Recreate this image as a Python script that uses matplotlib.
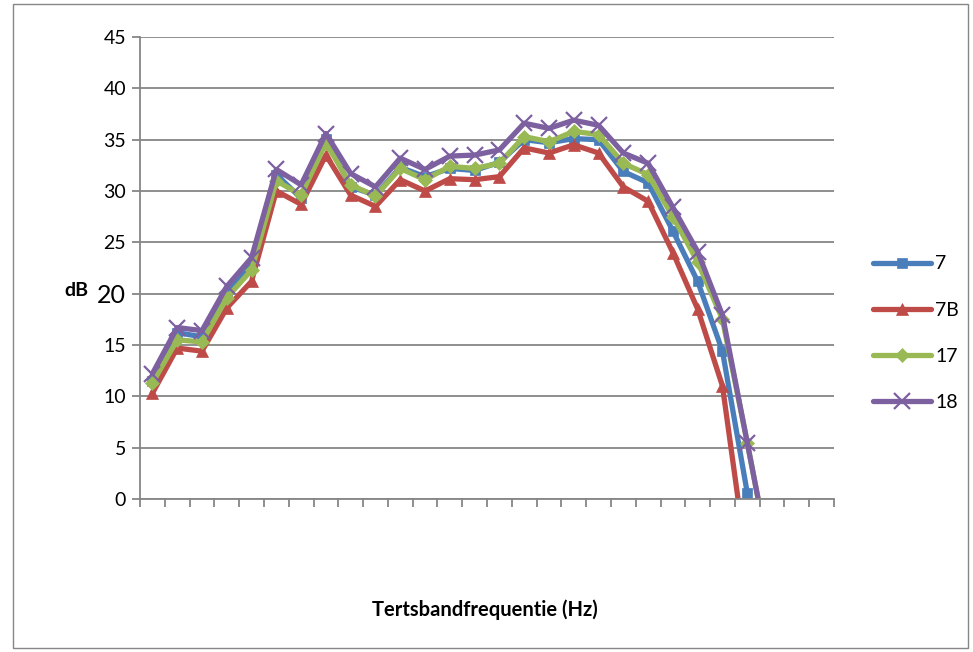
import numpy as np
import matplotlib
matplotlib.use('Agg')
import matplotlib.pyplot as plt
from matplotlib.patches import Rectangle

plt.rcParams['font.family'] = ['Lato', 'DejaVu Sans']

# ================= DATA =================
# 28 third-octave band categories, x labels are empty in the original
N_BANDS = 28
Y_TICKS = [0, 5, 10, 15, 20, 25, 30, 35, 40, 45]

s7 = [11.5, 16.2, 15.8, 20.0, 22.8, 31.6, 29.3, 35.1, 30.4, 29.6, 32.3, 31.4, 32.2, 32.0,
      32.8, 35.0, 34.7, 35.1, 35.0, 31.9, 30.8, 26.1, 21.2, 14.4, 0.6, -7.0]
s7B = [10.3, 14.7, 14.4, 18.6, 21.2, 30.0, 28.7, 33.5, 29.6, 28.5, 31.1, 30.0, 31.2, 31.1,
       31.4, 34.2, 33.7, 34.5, 33.7, 30.4, 29.0, 24.0, 18.5, 11.0, -6.5, -15.0]
s17 = [11.3, 15.5, 15.3, 19.6, 22.3, 31.0, 29.6, 34.7, 30.6, 29.5, 32.2, 31.1, 32.4, 32.2,
       32.7, 35.3, 34.8, 35.8, 35.5, 32.7, 31.6, 27.5, 23.1, 17.5, 5.5, -7.0]
s18 = [12.2, 16.7, 16.4, 20.7, 23.5, 32.1, 30.6, 35.6, 31.7, 30.4, 33.2, 32.1, 33.4, 33.5,
       34.0, 36.6, 36.1, 36.9, 36.4, 33.7, 32.7, 28.4, 24.1, 17.9, 5.5, -7.0]

SERIES = ['7', '7B', '17', '18']
COLORS = ['#4A7EBB', '#BE4B48', '#98B954', '#7D60A0']
MARKERS = ['s', '^', 'D', 'x']
MSIZE = [7.5, 8.5, 7, 12]

# ================= PLOT =================
fig = plt.figure(figsize=(9.73, 6.52), dpi=100)
fig.patches.append(Rectangle((13 / 973, 4 / 652), 955 / 973, 644 / 652,
                             transform=fig.transFigure, fill=False,
                             edgecolor='#868686', linewidth=1.0))

ax = fig.add_axes([140 / 973, 153 / 652, 694 / 973, 462 / 652])

grid_color = '#868686'
for data, name, c, m, ms in zip([s7, s7B, s17, s18], SERIES, COLORS, MARKERS, MSIZE):
    x = np.arange(len(data)) + 0.5
    ax.plot(x, data, color=c, linewidth=3.8, marker=m, markersize=ms,
            markeredgewidth=1.6 if m == 'x' else 0.5, markeredgecolor=c,
            label=name, solid_joinstyle='round', solid_capstyle='round')

ax.set_xlim(0, N_BANDS)
ax.set_ylim(0, 45)
ax.set_yticks(Y_TICKS)
ax.set_xticks(np.arange(N_BANDS + 1))
ax.set_xticklabels([])
ax.yaxis.grid(True, color=grid_color, linewidth=1.3)
ax.set_axisbelow(True)

for side in ['top', 'right']:
    ax.spines[side].set_visible(False)
for side in ['left', 'bottom']:
    ax.spines[side].set_color(grid_color)
    ax.spines[side].set_linewidth(1.3)
ax.tick_params(axis='both', direction='out', color=grid_color, width=1.3, length=6)
ax.tick_params(axis='y', labelsize=14, pad=4)

for lbl in ax.get_yticklabels():
    if lbl.get_text() == '20':
        lbl.set_fontsize(18)

fig.text(76 / 973, 1 - 290 / 652, 'dB', fontsize=14, fontweight='bold',
         ha='center', va='center')
fig.text(485 / 973, 1 - 610 / 652, 'Tertsbandfrequentie (Hz)', fontsize=14.5,
         fontweight='bold', ha='center', va='center')

leg = ax.legend(loc='center left', bbox_to_anchor=(0.887, 0.489),
                bbox_transform=fig.transFigure, frameon=False, fontsize=14,
                handlelength=3.0, handletextpad=0.2, labelspacing=1.5,
                borderpad=0, markerscale=1.0)

fig.savefig('out.png', dpi=100)
